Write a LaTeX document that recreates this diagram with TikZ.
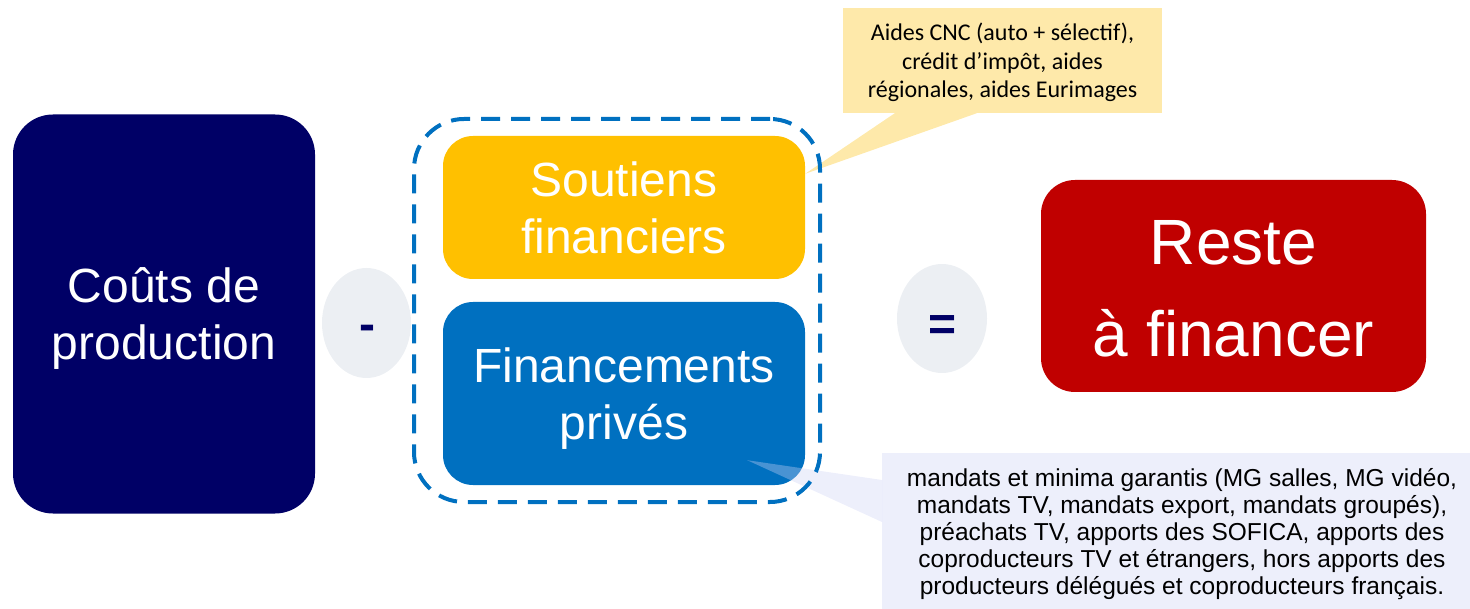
\documentclass[tikz,border=0pt]{standalone}
\usepackage{fontspec}
\setmainfont{Liberation Sans}
\newfontfamily\notefont{Carlito}
\usetikzlibrary{calc,shapes.geometric}

\definecolor{navy}{RGB}{0,0,102}
\definecolor{gold}{RGB}{255,192,0}
\definecolor{fblue}{RGB}{0,112,192}
\definecolor{darkred}{RGB}{192,0,0}
\definecolor{bubble}{RGB}{236,239,243}
\definecolor{noteyellow}{RGB}{254,233,170}
\definecolor{notelilac}{RGB}{205,210,245}

\begin{document}
\begin{tikzpicture}[x=1pt,y=-1pt,
  box/.style={rounded corners=#1, text=white, align=center, inner sep=0pt,
    font=\fontsize{48}{57}\selectfont},
  opbubble/.style={ellipse, fill=bubble, inner sep=0pt},
  optext/.style={text=navy, inner sep=0pt, font=\bfseries\fontsize{48}{56}\selectfont},
  notebox/.style={inner sep=0pt, align=center}]
\useasboundingbox (0,0) rectangle (1470,609);
\clip (0,0) rectangle (1470,609);

% production costs
\node[box=40pt, fill=navy, minimum width=302, minimum height=399] (couts)
  at (164,314) {Coûts de\\\smash{production}};

% minus and equals operators
\node[opbubble, minimum width=89, minimum height=110] (minus) at (366.5,323) {};
\node[optext, anchor=base] (minustxt) at (367,340.5) {-};
\node[opbubble, minimum width=90, minimum height=109] (equals) at (942,318.5) {};
\node[optext, anchor=base] (equalstxt) at (943,341) {=};

% remainder to finance
\node[box=34pt, fill=darkred, minimum width=385, minimum height=212,
  font=\fontsize{64}{92}\selectfont] (reste) at (1233.5,286)
  {\raisebox{-3pt}[\height][\depth]{Reste}\\\raisebox{-3pt}[\height][\depth]{à financer}};

% the two funding sources
\node[box=30pt, fill=gold, minimum width=362, minimum height=143] (soutiens)
  at (624,207.5) {Soutiens\\financiers};
\node[box=30pt, fill=fblue, minimum width=362, minimum height=183] (prives)
  at (624,393.5) {Financements\\\smash{privés}};

% public support callout
\coordinate (cnctip) at ($(soutiens.north east)+(0,38)$);
\node[notebox, fill=noteyellow, minimum width=319, minimum height=105,
  font=\notefont\fontsize{24}{28.5}\selectfont] (cncnote) at (1002.5,60.5)
  {Aides CNC (auto + sélectif),\\crédit d’impôt, aides\\\smash{régionales, aides Eurimages}};
\fill[noteyellow] ($(cncnote.south west)+(52,0)$) -- ($(cncnote.south west)+(134,0)$)
  -- (cnctip) -- cycle;

% private funding callout
\coordinate (privtip) at ($(prives.south east)+(-58,-25)$);
\node[fill=notelilac, fill opacity=0.36, inner sep=0pt, minimum width=600,
  minimum height=170, anchor=north west] (privnote) at (882,453) {};
\fill[notelilac, fill opacity=0.36] ($(privnote.north west)+(0,27)$)
  -- ($(privnote.north west)+(0,69)$) -- (privtip) -- cycle;
\node[notebox, font=\fontsize{24.5}{27}\selectfont] (privtext) at (1182,534)
  {mandats et minima garantis (MG salles, MG vidéo,\\
   mandats TV, mandats export, mandats groupés),\\
   préachats TV, apports des SOFICA, apports des\\
   coproducteurs TV et étrangers, hors apports des\\
   producteurs délégués et coproducteurs français.};

% dashed frame grouping the funding sources
\node[draw=fblue, line width=4pt, dash pattern=on 19pt off 11pt,
  rounded corners=50pt, minimum width=406, minimum height=383] (group)
  at (617,310.5) {};
\end{tikzpicture}
\end{document}
